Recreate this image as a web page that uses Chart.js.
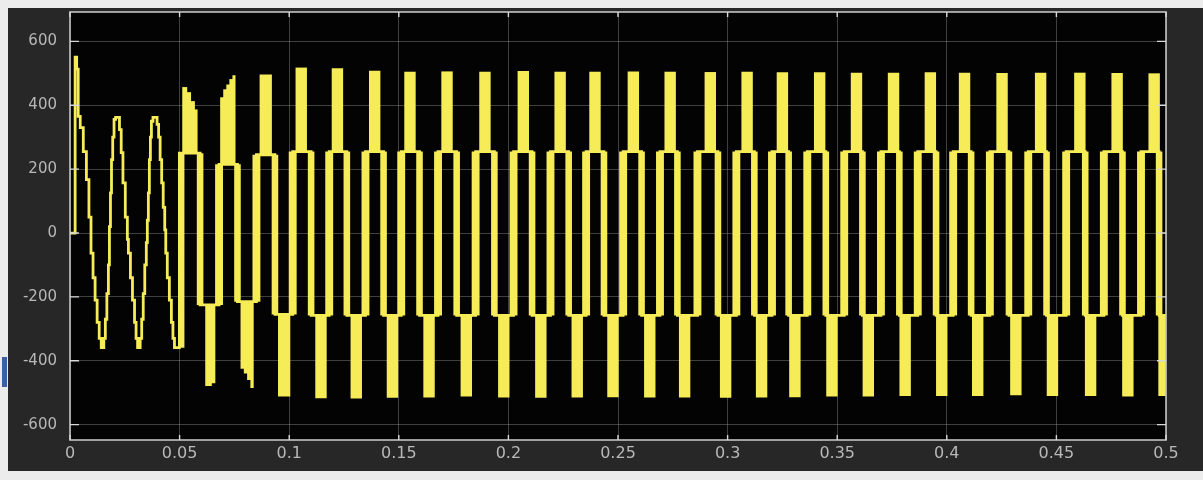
<!DOCTYPE html>
<html>
<head>
<meta charset="utf-8">
<title>Inverter output voltage</title>
<script src="https://cdn.jsdelivr.net/npm/chart.js@4.4.1/dist/chart.umd.min.js"></script>
<style>
  html, body { margin: 0; padding: 0; width: 1203px; height: 480px; overflow: hidden; background: #ececec; }
  #panel { position: absolute; left: 8px; top: 8px; width: 1195px; height: 463px; background: #272727; }
  #edge { position: absolute; left: 2px; top: 357px; width: 5px; height: 30px; background: #3d5fa8; }
  #chart { position: absolute; left: 0; top: 0; }
</style>
</head>
<body>
<div id="panel"></div>
<div id="edge"></div>
<canvas id="chart" width="1203" height="480"></canvas>
<script>
// Axis ticks
const xTicks = [0, 0.05, 0.1, 0.15, 0.2, 0.25, 0.3, 0.35, 0.4, 0.45, 0.5];
const yTicks = [-600, -400, -200, 0, 200, 400, 600];

// Start-up interval (0 - 0.05 s): held samples, time in s, voltage in V
const startTimes = [0, 0.00234, 0.00304, 0.00374, 0.00467, 0.00607, 0.00748, 0.00864, 0.00958, 0.01051,
  0.01145, 0.01238, 0.01332, 0.01425, 0.01542, 0.01612, 0.01682, 0.01752, 0.01799, 0.01846,
  0.01893, 0.01949, 0.02009, 0.02079, 0.02257, 0.02336, 0.02416, 0.02523, 0.02617, 0.02664,
  0.02757, 0.02850, 0.02944, 0.03014, 0.03084, 0.03201, 0.03271, 0.03341, 0.03411, 0.03481,
  0.03528, 0.03575, 0.03621, 0.03668, 0.03715, 0.03785, 0.03972, 0.04042, 0.04112, 0.04182,
  0.04252, 0.04322, 0.04369, 0.04439, 0.04533, 0.04626, 0.04696, 0.04766];
const startValues = [0, 551, 513, 365, 330, 255, 167, 50, -63, -140,
  -210, -280, -330, -359, -330, -270, -190, -100, 20, 126,
  230, 300, 356, 362, 324, 252, 157, 50, -20, -63,
  -140, -210, -280, -330, -359, -330, -270, -190, -100, -30,
  40, 126, 230, 300, 350, 362, 340, 300, 230, 157,
  80, 10, -63, -140, -210, -280, -330, -359];

// Switching interval: multilevel pulses, one positive and one negative per cycle
const switchStart = 0.0499;
const posCentre = [0.0547, 0.0720, 0.0893, 0.1055, 0.1220, 0.1390, 0.1551, 0.1720, 0.1893, 0.2068,
  0.2236, 0.2395, 0.2570, 0.2738, 0.2921, 0.3089, 0.3250, 0.3420, 0.3588, 0.3757,
  0.3925, 0.4081, 0.4252, 0.4428, 0.4607, 0.4777, 0.4946];
const posMid = [250, 215, 245, 255, 255, 255, 255, 255, 255, 255,
  255, 255, 255, 255, 255, 255, 255, 255, 255, 255,
  255, 255, 255, 255, 255, 255, 255];
const posPeak = [[457, 441, 413, 387], [425, 450, 465, 482, 494], 496, 518, 516, 508, 505, 506, 505, 507,
  505, 505, 506, 505, 504, 505, 503, 503, 502, 502,
  503, 502, 501, 502, 502, 501, 500];
const posSpan = [0.0070, 0.0070, 0.0056, 0.0052, 0.0052, 0.0052, 0.0052, 0.0052, 0.0052, 0.0052,
  0.0052, 0.0052, 0.0052, 0.0052, 0.0052, 0.0052, 0.0052, 0.0052, 0.0052, 0.0052,
  0.0052, 0.0052, 0.0052, 0.0052, 0.0052, 0.0052, 0.0052];

const negCentre = [0.0640, 0.0808, 0.0977, 0.1145, 0.1306, 0.1471, 0.1638, 0.1808, 0.1979, 0.2148,
  0.2314, 0.2477, 0.2645, 0.2804, 0.2991, 0.3155, 0.3307, 0.3476, 0.3642, 0.3810,
  0.3977, 0.4141, 0.4315, 0.4482, 0.4656, 0.4826, 0.4991];
const negMid = [-225, -215, -255, -258, -258, -258, -258, -258, -258, -258,
  -258, -258, -258, -258, -258, -258, -258, -258, -258, -258,
  -258, -258, -258, -258, -258, -258, -258];
const negPeak = [[-479, -470], [-425, -440, -460, -485], -512, -517, -518, -516, -515, -512, -515, -516,
  -515, -514, -515, -515, -516, -515, -514, -512, -512, -510,
  -510, -510, -508, -510, -510, -512, -510];
const negSpan = [0.0046, 0.0060, 0.0056, 0.0052, 0.0052, 0.0052, 0.0052, 0.0052, 0.0052, 0.0052,
  0.0052, 0.0052, 0.0052, 0.0052, 0.0052, 0.0052, 0.0052, 0.0052, 0.0052, 0.0052,
  0.0052, 0.0052, 0.0052, 0.0052, 0.0052, 0.0052, 0.0052];

// Duration of the switching band at each zero crossing (s)
const risingWidth = 0.0036;
const fallingWidth = 0.0030;
const firstCrossingWidth = 0.0023;

const TRACE = '#f6ec58';

// ---- build the trace and the switching regions ----
const trace = startTimes.map((t, i) => ({ x: t, y: startValues[i] }));
const regions = [];   // [t0, t1, from, to] : interval where the output chops between two levels

function addBlock(centre, span, mid, peak) {
  const t0 = centre - span / 2;
  if (Array.isArray(peak)) {
    const step = span / peak.length;
    peak.forEach((p, j) => {
      // neighbouring steps overlap a little so no seam shows between them
      const end = j < peak.length - 1 ? t0 + (j + 1.3) * step : t0 + span;
      regions.push([t0 + j * step, end, mid, p]);
    });
  } else {
    regions.push([t0, t0 + span, mid, peak]);
  }
}

for (let k = 0; k < posCentre.length; k++) {
  // rising crossing into the positive pulse
  if (k === 0) {
    regions.push([switchStart, switchStart + firstCrossingWidth, startValues[startValues.length - 1], posMid[0]]);
    trace.push({ x: switchStart, y: posMid[0] });
  } else {
    const tr = (negCentre[k - 1] + posCentre[k]) / 2;
    regions.push([tr - risingWidth / 2, tr + risingWidth / 2, negMid[k - 1], posMid[k]]);
    trace.push({ x: tr, y: posMid[k] });
  }
  addBlock(posCentre[k], posSpan[k], posMid[k], posPeak[k]);

  // falling crossing into the negative pulse
  const tf = (posCentre[k] + negCentre[k]) / 2;
  regions.push([tf - fallingWidth / 2, tf + fallingWidth / 2, negMid[k], posMid[k]]);
  trace.push({ x: tf, y: negMid[k] });
  addBlock(negCentre[k], negSpan[k], negMid[k], negPeak[k]);
}
trace.push({ x: 0.5, y: negMid[negMid.length - 1] });

const datasets = [{
  data: trace,
  stepped: 'before',      // hold each value until the next sample time
  borderColor: TRACE,
  borderWidth: 2.8,
  pointRadius: 0,
  fill: false
}];

// each chopping interval is stroked as one vertical segment whose width spans t0..t1 on the time scale
regions.forEach(([t0, t1, from, to]) => {
  const tc = (t0 + t1) / 2;
  datasets.push({
    data: [{ x: tc, y: from }, { x: tc, y: to }],
    borderColor: TRACE,
    borderWidth: ctx => {
      const s = ctx.chart.scales.x;
      return Math.max(1, Math.abs(s.getPixelForValue(t1) - s.getPixelForValue(t0)));
    },
    borderCapStyle: 'butt',
    borderJoinStyle: 'bevel',
    pointRadius: 0,
    fill: false
  });
});

const fmt = v => String(Number(v.toFixed(2)));

// black plotting surface, light frame and inward tick marks
const scopeFrame = {
  id: 'scopeFrame',
  beforeDraw(chart) {
    const { ctx, chartArea: a } = chart;
    ctx.save();
    ctx.fillStyle = '#030303';
    ctx.fillRect(a.left, a.top, a.right - a.left, a.bottom - a.top);
    ctx.restore();
  },
  afterDraw(chart) {
    const { ctx, chartArea: a, scales } = chart;
    ctx.save();
    ctx.strokeStyle = '#c4c4c4';
    ctx.lineWidth = 1.6;
    ctx.strokeRect(a.left, a.top, a.right - a.left, a.bottom - a.top);
    ctx.lineWidth = 1.4;
    ctx.strokeStyle = '#d8d8d8';
    ctx.beginPath();
    xTicks.forEach(v => {
      const px = scales.x.getPixelForValue(v);
      ctx.moveTo(px, a.bottom); ctx.lineTo(px, a.bottom - 5);
      ctx.moveTo(px, a.top); ctx.lineTo(px, a.top + 5);
    });
    yTicks.forEach(v => {
      const py = scales.y.getPixelForValue(v);
      ctx.moveTo(a.left, py); ctx.lineTo(a.left + 9, py);
      ctx.moveTo(a.right, py); ctx.lineTo(a.right - 9, py);
    });
    ctx.stroke();
    ctx.restore();
  }
};

new Chart(document.getElementById('chart'), {
  type: 'line',
  data: { datasets },
  plugins: [scopeFrame],
  options: {
    responsive: false,
    animation: false,
    devicePixelRatio: 1,
    parsing: false,
    layout: { padding: { left: 0, top: 12, right: 37, bottom: 0 } },
    plugins: { legend: { display: false }, tooltip: { enabled: false } },
    scales: {
      x: {
        type: 'linear',
        min: 0,
        max: 0.5,
        afterBuildTicks: s => { s.ticks = xTicks.map(v => ({ value: v })); },
        afterFit: s => { s.height = 40; s.paddingLeft = 0; s.paddingRight = 0; },
        border: { display: false },
        grid: { color: 'rgba(150,150,150,0.42)', lineWidth: 1, drawTicks: false },
        ticks: {
          color: '#b8b8b8', padding: 4, maxRotation: 0, autoSkip: false,
          font: { family: 'DejaVu Sans', size: 16 },
          callback: v => fmt(v)
        }
      },
      y: {
        type: 'linear',
        min: -648,
        max: 692,
        afterBuildTicks: s => { s.ticks = yTicks.map(v => ({ value: v })); },
        afterFit: s => { s.width = 70; s.paddingTop = 0; s.paddingBottom = 0; },
        border: { display: false },
        grid: { color: 'rgba(150,150,150,0.42)', lineWidth: 1, drawTicks: false },
        ticks: {
          color: '#b8b8b8', padding: 13, autoSkip: false,
          font: { family: 'DejaVu Sans', size: 15 },
          callback: v => String(v)
        }
      }
    }
  }
});
</script>
</body>
</html>
